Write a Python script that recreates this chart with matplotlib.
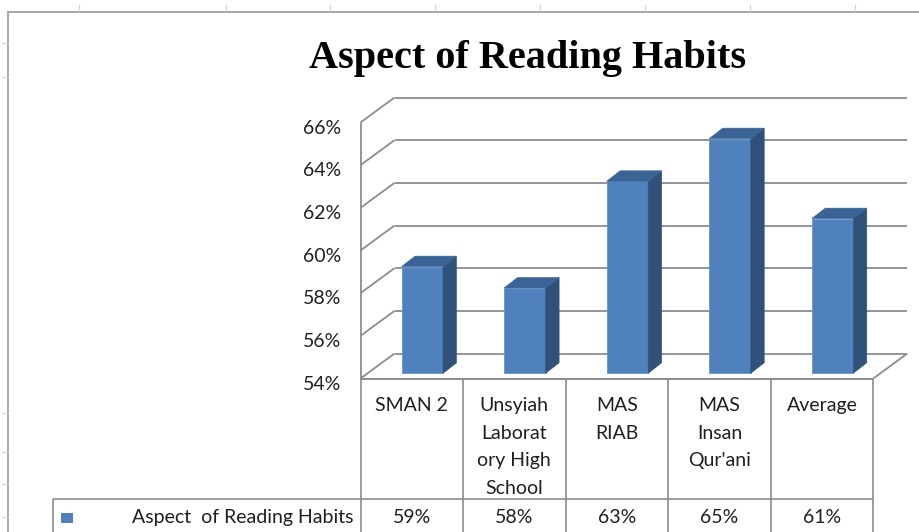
import matplotlib
matplotlib.use("Agg")
import matplotlib.pyplot as plt
import numpy as np
from matplotlib.patches import Polygon, Rectangle
from matplotlib.lines import Line2D
from matplotlib.transforms import ScaledTranslation, IdentityTransform

# ---------------- data ----------------
title = "Aspect of Reading Habits"
series_name = "Aspect  of Reading Habits"
categories = ["SMAN 2", "Unsyiah Laboratory High School", "MAS RIAB",
              "MAS Insan Qur'ani", "Average"]
header_labels = ["SMAN 2", "Unsyiah\nLaborat\nory High\nSchool", "MAS\nRIAB",
                 "MAS\nInsan\nQur'ani", "Average"]
values = [59, 58, 63, 65, 61.25]
y_ticks = [54, 56, 58, 60, 62, 64, 66]

# ---------------- style ----------------
W, H = 919, 532
DPI = 100
TXT_FONT = "Lato"
TXT_SIZE = 14
TXT_COLOR = "#1f1f1f"
GRID = "#8c8c8c"
FRONT = "#4f81bd"
SIDE = "#30527a"
TOP = "#3b6396"

fig = plt.figure(figsize=(W / DPI, H / DPI), dpi=DPI)
fig.patch.set_facecolor("white")


def fx(px):
    return px / W


def fy(py):
    return 1 - py / H


# spreadsheet chrome (background)
bg = fig.add_axes([0, 0, 1, 1])
bg.set_xlim(0, W)
bg.set_ylim(H, 0)
bg.axis("off")
bg.plot([8, W], [11.7, 11.7], color="#a6a6a6", lw=1.4)
bg.plot([8, 8], [11.7, H], color="#a6a6a6", lw=1.4)
for tx in [79, 226, 330, 435, 540, 645, 750, 855]:
    bg.plot([tx, tx], [5, 11], color="#d0d0d0", lw=0.8)
for ty in [43, 77, 413, 452, 484, 517]:
    bg.plot([2, 8], [ty, ty], color="#d8d8d8", lw=0.8)

# main (front plane) axes
left_px, right_px = 360.5, 873.3
top_px, bot_px = 122.5, 378.5
ax = fig.add_axes([fx(left_px), fy(bot_px), (right_px - left_px) / W,
                   (bot_px - top_px) / H])
n = len(values)
ax.set_xlim(-0.5, n - 0.5)
ax.set_ylim(y_ticks[0], y_ticks[-1])
ax.axis("off")


def shift(dx, dy):
    """transData shifted by dx px right, dy px down."""
    return ax.transData + ScaledTranslation(dx / DPI, -dy / DPI,
                                            fig.dpi_scale_trans)


front = ax.transData
back = shift(34, -25)
xl, xr = -0.5, n - 0.5
ymin = y_ticks[0]


def dline(pts, **kw):
    arr = np.array(pts)
    fig.add_artist(Line2D(arr[:, 0], arr[:, 1], transform=IdentityTransform(),
                          **kw))


gkw = dict(color=GRID, lw=1.3, solid_capstyle="butt")

# back wall gridlines
for t in y_ticks:
    ax.plot([xl, xr], [t, t], transform=back, clip_on=False, **gkw)
# side wall diagonals
for t in y_ticks:
    dline([front.transform((xl, t)), back.transform((xl, t))], **gkw)
# front-left vertical edge
ax.plot([xl, xl], [y_ticks[0], y_ticks[-1]], clip_on=False, **gkw)
# floor
ax.plot([xl, xr], [ymin, ymin], clip_on=False, **gkw)
dline([front.transform((xr, ymin)), back.transform((xr, ymin))], **gkw)

# y tick labels
lab_tr = shift(-19, 5.5)
for t in y_ticks:
    ax.text(xl, t, f"{t}%", transform=lab_tr, ha="right", va="center",
            fontsize=TXT_SIZE, family=TXT_FONT, color=TXT_COLOR)

# 3D bars
bw = 0.405
f1 = shift(10.5, -5.2)
f2 = shift(24, -15.7)
for i, v in enumerate(values):
    x0, x1 = i - bw / 2, i + bw / 2
    ax.add_patch(Polygon([(x0, ymin), (x1, ymin), (x1, v), (x0, v)],
                         closed=True, transform=f1, facecolor=FRONT,
                         edgecolor="#6b95c9", lw=0.6, clip_on=False, zorder=3))
    side = [f1.transform((x1, ymin)), f2.transform((x1, ymin)),
            f2.transform((x1, v)), f1.transform((x1, v))]
    fig.add_artist(Polygon(side, closed=True, transform=IdentityTransform(),
                           facecolor=SIDE, edgecolor=SIDE, lw=0.4, zorder=3))
    top = [f1.transform((x0, v)), f1.transform((x1, v)),
           f2.transform((x1, v)), f2.transform((x0, v))]
    fig.add_artist(Polygon(top, closed=True, transform=IdentityTransform(),
                           facecolor=TOP, edgecolor=TOP, lw=0.4, zorder=3))

# data table
tb = fig.add_axes([fx(left_px), 0, (right_px - left_px) / W, (H - bot_px) / H])
tb.set_xlim(-0.5, n - 0.5)
tb.set_ylim(H - bot_px, 0)
tb.axis("off")
row_div = 499.3 - bot_px
tb_bottom = H - bot_px
legend_left = -3.5
tkw = dict(color=GRID, lw=1.2, clip_on=False, solid_capstyle="butt")
tb.plot([xl, xr], [0, 0], **tkw)
tb.plot([legend_left, xr], [row_div, row_div], **tkw)
for b in range(n + 1):
    tb.plot([b - 0.5, b - 0.5], [0, tb_bottom], **tkw)
tb.plot([legend_left, legend_left], [row_div, tb_bottom], **tkw)

for i, lab in enumerate(header_labels):
    tb.text(i, 18.5, lab, ha="center", va="top", linespacing=1.76,
            fontsize=TXT_SIZE, family=TXT_FONT, color=TXT_COLOR)
val_y = 517.3 - bot_px
for i, v in enumerate(values):
    tb.text(i, val_y, f"{v:.0f}%", ha="center", va="center",
            fontsize=TXT_SIZE, family=TXT_FONT, color=TXT_COLOR)
tb.add_patch(Rectangle((-3.42, 513 - bot_px), 0.117, 10, facecolor=FRONT,
                       edgecolor="none", clip_on=False))
tb.text(-0.565, val_y, series_name, ha="right", va="center",
        fontsize=TXT_SIZE, family=TXT_FONT, color=TXT_COLOR)

# title
fig.text(fx(527.5), fy(68.3), title, ha="center", va="baseline",
         fontsize=29, family="Liberation Serif", weight="bold", color="black")

fig.savefig("out.png", dpi=DPI)
